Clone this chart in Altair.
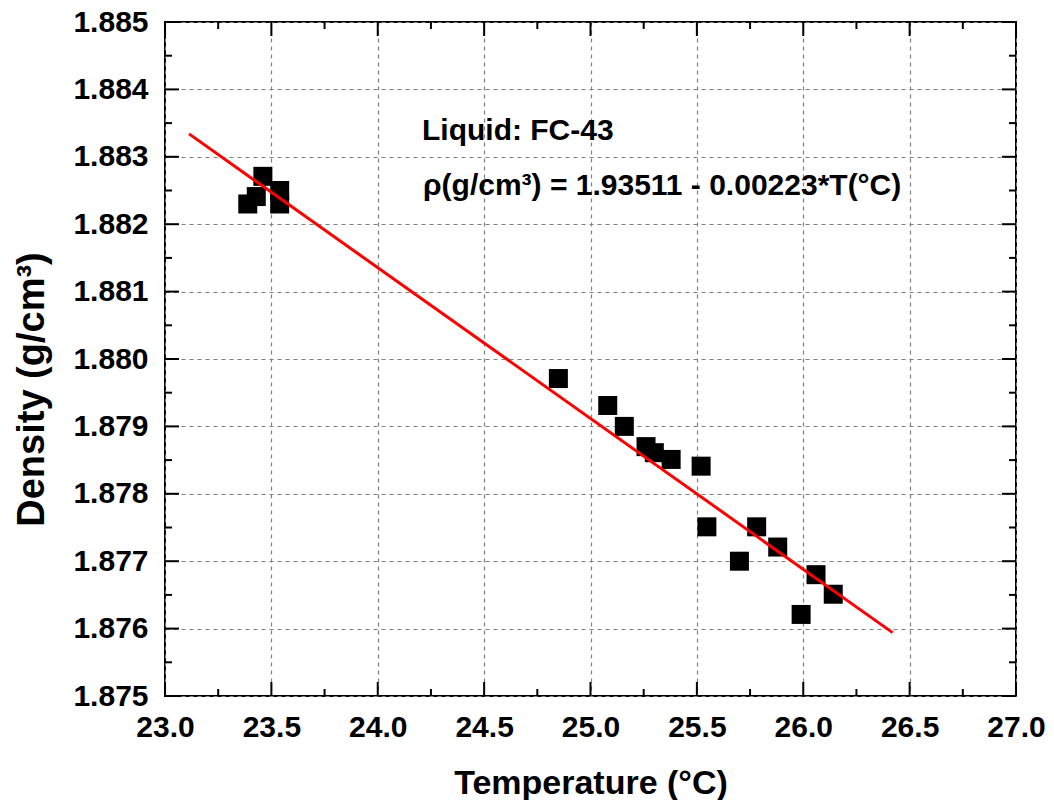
import altair as alt
import pandas as pd

# --- data ---
temperature = [23.389, 23.429, 23.460, 23.539, 23.539,
               24.849, 25.081, 25.159, 25.261, 25.300, 25.379, 25.520,
               25.547, 25.781, 25.880, 25.700, 26.060, 26.141, 25.990]
density = [1.88230, 1.88241, 1.88271, 1.88250, 1.88230,
           1.87971, 1.87931, 1.87900, 1.87870, 1.87861, 1.87851, 1.87841,
           1.87751, 1.87751, 1.87721, 1.87700, 1.87680, 1.87651, 1.87621]

fit_x = [23.113, 26.420]
fit_y = [1.88334, 1.87594]

x_major = [23.0, 23.5, 24.0, 24.5, 25.0, 25.5, 26.0, 26.5, 27.0]
x_minor = [23.25, 23.75, 24.25, 24.75, 25.25, 25.75, 26.25, 26.75]
y_major = [1.875, 1.876, 1.877, 1.878, 1.879, 1.880, 1.881, 1.882, 1.883, 1.884, 1.885]
y_minor = [1.8755, 1.8765, 1.8775, 1.8785, 1.8795, 1.8805, 1.8815, 1.8825, 1.8835, 1.8845]

label_1 = ["Liquid: FC-43"]
label_2 = ["\u03c1(g/cm\u00b3) = 1.93511 - 0.00223*T(\u00b0C)"]

x_title = "Temperature (\u00b0C)"
y_title = "Density (g/cm\u00b3)"

# --- chart ---
W, H = 851, 674
FONT = "Liberation Sans"

xs = alt.Scale(domain=[23.0, 27.0], nice=False, zero=False)
ys = alt.Scale(domain=[1.875, 1.885], nice=False, zero=False)

pts = pd.DataFrame({"T": temperature, "D": density})
fit = pd.DataFrame({"T": fit_x, "D": fit_y})

x_axis = alt.Axis(values=x_major, format=".1f", ticks=False, domain=False,
                  grid=True, gridDash=[4, 4], gridColor="#808080", gridWidth=1.2,
                  labelFont=FONT, labelFontSize=30, labelFontWeight="bold",
                  labelColor="black", labelPadding=16, labelFlush=False,
                  title=x_title, titleFont=FONT, titleFontSize=34,
                  titleFontWeight="bold", titleColor="black",
                  titleBaseline="alphabetic", titleY=97)
y_axis = alt.Axis(values=y_major, format=".3f", ticks=False, domain=False,
                  grid=True, gridDash=[4, 4], gridColor="#808080", gridWidth=1.2,
                  labelFont=FONT, labelFontSize=30, labelFontWeight="bold",
                  labelColor="black", labelPadding=17, labelFlush=False,
                  title=y_title, titleFont=FONT, titleFontSize=38,
                  titleFontWeight="bold", titleColor="black",
                  titleAngle=270, titleBaseline="alphabetic", titleAlign="center",
                  titleX=-122, titleY=367)


def X(field):
    return alt.X(field, scale=xs, axis=x_axis, title=x_title)


def Y(field):
    return alt.Y(field, scale=ys, axis=y_axis, title=y_title)


points = alt.Chart(pts).mark_square(size=361, color="black", opacity=1).encode(
    x=X("T:Q"), y=Y("D:Q"),
)

line = alt.Chart(fit).mark_line(color="#ff0000", strokeWidth=3).encode(
    x=X("T:Q"), y=Y("D:Q"),
)


def xticks(vals, y0, y1):
    return alt.Chart(pd.DataFrame({"T": vals})).mark_rule(
        color="black", strokeWidth=2).encode(
        x=X("T:Q"), y=alt.value(y0), y2=alt.value(y1))


def yticks(vals, x0, x1):
    return alt.Chart(pd.DataFrame({"D": vals})).mark_rule(
        color="black", strokeWidth=2).encode(
        y=Y("D:Q"), x=alt.value(x0), x2=alt.value(x1))


ticks = [
    xticks(x_major, H, H - 14), xticks(x_minor, H, H - 7),
    xticks(x_major, 0, 14), xticks(x_minor, 0, 7),
    yticks(y_major, 0, 14), yticks(y_minor, 0, 7),
    yticks(y_major, W, W - 14), yticks(y_minor, W, W - 7),
]

txt1 = alt.Chart(pd.DataFrame({"t": label_1})).mark_text(
    align="left", baseline="alphabetic", font=FONT, fontSize=30,
    fontWeight="bold", color="black").encode(
    text="t:N", x=alt.value(257), y=alt.value(118))
txt2 = alt.Chart(pd.DataFrame({"t": label_2})).mark_text(
    align="left", baseline="alphabetic", font=FONT, fontSize=30,
    fontWeight="bold", color="black").encode(
    text="t:N", x=alt.value(258), y=alt.value(173))

chart = alt.layer(points, line, *ticks, txt1, txt2).properties(
    width=W, height=H,
    autosize=alt.AutoSizeParams(type="none"),
    padding={"left": 157, "top": 14, "right": 30, "bottom": 104},
    background="white",
).configure_view(stroke="black", strokeWidth=2)

chart.save("out.html", embed_options={"renderer": "svg", "actions": False})
